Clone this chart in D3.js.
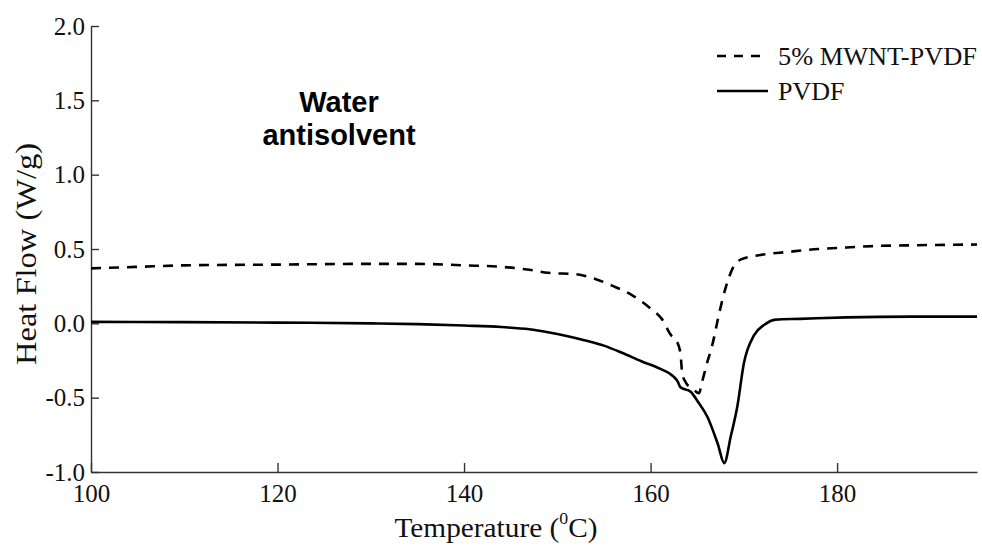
<!DOCTYPE html>
<html>
<head>
<meta charset="utf-8">
<script src="https://cdn.jsdelivr.net/npm/d3@7"></script>
<style>
	body { margin: 0; background: #fff; }
	svg { display: block; }
	.tick text { font-family: "Liberation Serif", "Times New Roman", serif; }
</style>
</head>
<body>
<div id="chart"><svg></svg></div>
<script>
// temperature (C) and heat flow (W/g)
const mwntTemp = [100, 105, 110, 120, 130, 135, 140, 144, 147, 149, 152, 154, 156, 158, 160, 161.2, 162.2, 162.8, 163.2, 163.4, 163.8, 164.5, 165.2, 165.5, 166.0, 166.6, 167.4, 168.1, 168.8, 169.7, 171.8, 174.7, 178, 181, 184, 188, 195];
const mwntFlow = [0.37, 0.38, 0.39, 0.395, 0.40, 0.40, 0.39, 0.38, 0.36, 0.34, 0.33, 0.30, 0.25, 0.19, 0.10, 0.03, -0.08, -0.12, -0.20, -0.34, -0.40, -0.44, -0.47, -0.40, -0.28, -0.15, 0.08, 0.25, 0.37, 0.43, 0.46, 0.48, 0.50, 0.51, 0.52, 0.525, 0.53];

const pvdfTemp = [100, 110, 120, 130, 135, 140, 144, 147, 149, 151, 153, 155, 157, 159, 161, 162.5, 162.9, 163.2, 164.3, 165.0, 166.1, 167.2, 167.9, 168.6, 169.3, 170.0, 171.1, 172.2, 173.4, 176, 181, 188, 195];
const pvdfFlow = [0.01, 0.008, 0.005, 0.0, -0.005, -0.015, -0.025, -0.04, -0.06, -0.085, -0.115, -0.15, -0.20, -0.255, -0.305, -0.36, -0.39, -0.43, -0.46, -0.52, -0.63, -0.81, -0.94, -0.76, -0.56, -0.27, -0.08, -0.01, 0.025, 0.03, 0.04, 0.045, 0.045];

const xTicks = [100, 120, 140, 160, 180];
const yTicks = [-1.0, -0.5, 0.0, 0.5, 1.0, 1.5, 2.0];
const seriesNames = ["5% MWNT-PVDF", "PVDF"];

const w = 982;
const h = 546;

let svg = d3.select("#chart")
			.select("svg")
			.attr("width", w)
			.attr("height", h);

let x = d3.scaleLinear()
			.domain([100, 195])
			.range([91, 977]);

let y = d3.scaleLinear()
			.domain([-1, 2])
			.range([472, 26]);

/* ***Axes*** */
let xAxis = svg.append("g")
			.attr("transform", `translate(0,${y(-1)})`)
			.call(d3.axisBottom(x).tickValues(xTicks).tickSizeInner(-9).tickSizeOuter(0).tickPadding(12).tickFormat(d3.format("d")));

let yAxis = svg.append("g")
			.attr("transform", `translate(${x(100)},0)`)
			.call(d3.axisLeft(y).tickValues(yTicks).tickSizeInner(-8).tickSizeOuter(0).tickPadding(6).tickFormat(d3.format(".1f")));

svg.selectAll(".domain, .tick line")
	.attr("stroke", "#333")
	.attr("stroke-width", 1.4);

svg.selectAll(".tick text")
	.attr("font-size", 25)
	.attr("fill", "#111");

yAxis.selectAll(".tick text")
	.text(d=>d3.format(".1f")(d).replace("−", "-"));

/* ***Lines*** */
let line = d3.line()
			.x(d=>x(d[0]))
			.y(d=>y(d[1]))
			.curve(d3.curveMonotoneX);

svg.append("path")
	.datum(mwntTemp.map((t,i)=>[t, mwntFlow[i]]))
	.attr("d", line)
	.attr("fill", "none")
	.attr("stroke", "#000")
	.attr("stroke-width", 2.6)
	.attr("stroke-dasharray", "10,8");

svg.append("path")
	.datum(pvdfTemp.map((t,i)=>[t, pvdfFlow[i]]))
	.attr("d", line)
	.attr("fill", "none")
	.attr("stroke", "#000")
	.attr("stroke-width", 2.6);

/* ***Titles*** */
let xTitle = svg.append("text")
			.attr("x", 496)
			.attr("y", 537)
			.attr("text-anchor", "middle")
			.attr("font-family", "Liberation Serif, serif")
			.attr("font-size", 28)
			.attr("textLength", 203)
			.attr("lengthAdjust", "spacingAndGlyphs")
			.attr("fill", "#111");
xTitle.append("tspan").text("Temperature (");
xTitle.append("tspan").attr("dy", -13).attr("font-size", 17).text("0");
xTitle.append("tspan").attr("dy", 13).text("C)");

svg.append("text")
	.attr("transform", "translate(36,254) rotate(-90)")
	.attr("text-anchor", "middle")
	.attr("font-family", "Liberation Serif, serif")
	.attr("font-size", 29)
	.attr("textLength", 222)
	.attr("lengthAdjust", "spacingAndGlyphs")
	.attr("fill", "#111")
	.text("Heat Flow (W/g)");

svg.append("text")
	.attr("x", 339)
	.attr("y", 112)
	.attr("text-anchor", "middle")
	.attr("font-family", "Liberation Sans, Arial, sans-serif")
	.attr("font-weight", "bold")
	.attr("font-size", 29)
	.selectAll("tspan")
	.data(["Water", "antisolvent"])
	.enter()
	.append("tspan")
	.attr("x", 339)
	.attr("dy", (d,i)=>i === 0 ? 0 : 33)
	.text(d=>d);

/* ***Legend*** */
let legend = svg.append("g")
			.attr("class","legend")
			.attr("transform", "translate(717,56)");

legend.selectAll("line")
	.data(seriesNames)
	.enter()
	.append("line")
	.attr("x1", 0)
	.attr("x2", 51)
	.attr("y1", (d,i)=>i*35)
	.attr("y2", (d,i)=>i*35)
	.attr("stroke", "#000")
	.attr("stroke-width", 2.6)
	.attr("stroke-dasharray", (d,i)=>i === 0 ? "9,8" : null);

legend.selectAll("text")
	.data(seriesNames)
	.enter()
	.append("text")
	.attr("x", 61)
	.attr("y", (d,i)=>i*35 + 9)
	.attr("font-family", "Liberation Serif, serif")
	.attr("font-size", 26)
	.attr("textLength", (d,i)=>i === 0 ? 199 : null)
	.attr("lengthAdjust", "spacingAndGlyphs")
	.attr("fill", "#111")
	.text(d=>d);
</script>
</body>
</html>
